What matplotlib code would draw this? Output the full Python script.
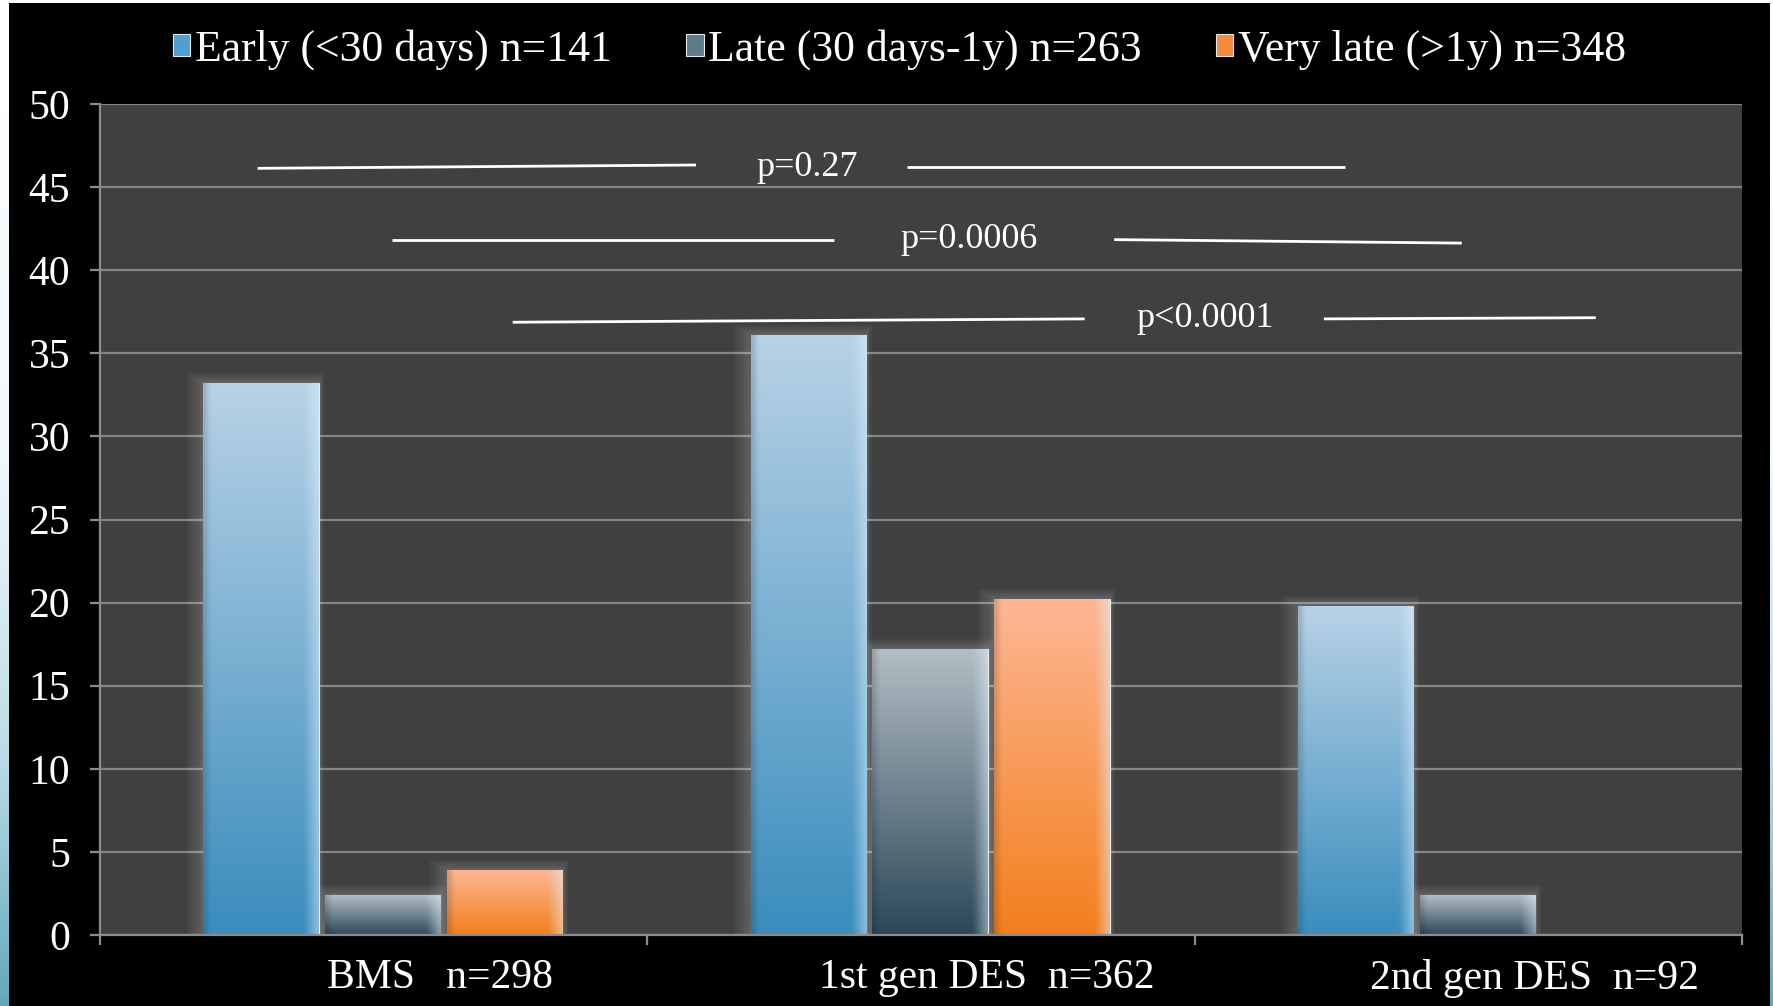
#!/usr/bin/env python3
"""
Stent thrombosis timing by stent type - dark slide style bar chart.
"""

import numpy as np
import matplotlib
matplotlib.use("Agg")
import matplotlib.pyplot as plt
import matplotlib.transforms as mtransforms
from matplotlib.colors import LinearSegmentedColormap, to_rgb
from matplotlib.patches import Patch, Rectangle

plt.rcParams["font.family"] = ["Liberation Serif", "DejaVu Serif"]

# data
categories = ["BMS   n=298", "1st gen DES  n=362", "2nd gen DES  n=92"]
series_labels = ["Early (<30 days) n=141", "Late (30 days-1y) n=263", "Very late (>1y) n=348"]
early = [33.2, 36.1, 19.8]
late = [2.4, 17.2, 2.4]
very_late = [3.9, 20.2, 0.0]

# p-value brackets (text and line ends in data coords)
p_labels = ["p=0.27", "p=0.0006", "p<0.0001"]
p_text_x = [0.792, 1.088, 1.519]
p_text_y = [46.2, 41.84, 37.1]
p_left_x = [(-0.212, 0.589), (0.034, 0.841), (0.254, 1.299)]
p_left_y = [(46.13, 46.33), (41.84, 41.84), (36.87, 37.07)]
p_right_x = [(0.974, 1.775), (1.353, 1.988), (1.736, 2.233)]
p_right_y = [(46.2, 46.2), (41.84, 41.63), (37.07, 37.14)]

# (top colour, bottom colour, legend colour)
styles = [
    ("#b8d2e6", "#3a8dbd", "#4f9fd0"),
    ("#b3bec5", "#2c4858", "#5f7b8a"),
    ("#fdb795", "#f37f1c", "#f58a3c"),
]


def bar_gradient(top, bottom, n=200, m=40):
    t = np.linspace(0, 1, n)[:, None, None]
    img = (1 - t) * np.array(to_rgb(top)) + t * np.array(to_rgb(bottom))
    img = np.repeat(img, m, axis=1)
    # light right edge and slightly darker left edge
    xs = np.linspace(0, 1, m)[None, :, None]
    hl = np.clip((xs - 0.88) / 0.12, 0, 1) * 0.45
    img = img * (1 - hl) + hl * np.array([0.88, 0.95, 1.0])
    sh = np.clip((0.06 - xs) / 0.06, 0, 1) * 0.15
    img = img * (1 - sh)
    return np.clip(img, 0, 1)


def main():
    fig = plt.figure(figsize=(17.74, 10.06), dpi=100)

    # slide background: pale blue gradient behind a black panel
    ax_bg = fig.add_axes([0, 0, 1, 1], zorder=-10)
    slide = LinearSegmentedColormap.from_list(
        "slide", [(0, "#ffffff"), (0.45, "#f2f8fb"), (0.75, "#bcdde6"), (1, "#62a9bd")])
    ax_bg.imshow(np.linspace(0, 1, 256)[:, None], cmap=slide, aspect="auto",
                 extent=[0, 1, 0, 1], origin="upper")
    ax_bg.add_patch(Rectangle((9 / 1774, 0), (1770 - 9) / 1774, 1003 / 1006,
                              facecolor="black", edgecolor="none"))
    ax_bg.set_xlim(0, 1)
    ax_bg.set_ylim(0, 1)
    ax_bg.axis("off")

    ax = fig.add_axes([100 / 1774, 1 - 935 / 1006, 1642 / 1774, 831 / 1006])
    ax.set_facecolor("#404040")

    x = np.arange(len(categories))
    width = 0.211
    step = 0.2225
    shift = 0.0166
    series = [early, late, very_late]

    for j, vals in enumerate(series):
        top, bottom, _ = styles[j]
        pos = x + (j - 1) * step + shift
        vals_arr = np.array(vals)
        # soft glow behind the bars (none for empty bars)
        for k in range(1, 6):
            glow_h = np.where(vals_arr > 0, vals_arr + 0.12 * k, 0)
            ax.bar(pos - 0.002 * k, glow_h, width=width + 0.008 * k,
                   color="white", alpha=0.035, zorder=2, linewidth=0)
        bars = ax.bar(pos, vals, width=width, color=bottom, zorder=3,
                      edgecolor="#e6eef2", linewidth=0.8)
        for b in bars:
            h = b.get_height()
            if h <= 0:
                b.set_visible(False)
                continue
            x0 = b.get_x()
            im = ax.imshow(bar_gradient(top, bottom), extent=[x0, x0 + b.get_width(), 0, h],
                           origin="upper", aspect="auto", zorder=3.5, interpolation="bilinear")
            im.set_clip_path(b)

    ax.set_xlim(-0.5, 2.5)
    ax.set_ylim(0, 50)
    ax.set_yticks(np.arange(0, 51, 5))
    ax.grid(True, axis="y", color="#858585", linewidth=1.6, zorder=1)
    ax.set_axisbelow(True)

    for s in ["top", "right"]:
        ax.spines[s].set_visible(False)
    for s in ["left", "bottom"]:
        ax.spines[s].set_color("#8c8c8c")
        ax.spines[s].set_linewidth(1.6)
        ax.spines[s].set_zorder(4)

    ax.tick_params(axis="y", colors="#8c8c8c", length=7.5, width=1.6, pad=14,
                   labelcolor="white", labelsize=30)
    ax.set_xticks(x)
    ax.set_xticklabels(categories)
    ax.set_xticks([-0.5, 0.5, 1.5, 2.5], minor=True)
    ax.tick_params(axis="x", which="major", length=0, pad=17, labelcolor="white", labelsize=30)
    ax.tick_params(axis="x", which="minor", length=7.5, width=1.6, colors="#8c8c8c")
    offset = mtransforms.ScaledTranslation(0.66, 0, fig.dpi_scale_trans)
    for lab in ax.get_xticklabels():
        lab.set_transform(lab.get_transform() + offset)

    # p-value brackets
    for i, lbl in enumerate(p_labels):
        ax.plot(p_left_x[i], p_left_y[i], color="white", linewidth=2, zorder=5,
                solid_capstyle="butt")
        ax.plot(p_right_x[i], p_right_y[i], color="white", linewidth=2, zorder=5,
                solid_capstyle="butt")
        ax.text(p_text_x[i], p_text_y[i], lbl, color="white", fontsize=26,
                ha="center", va="center", zorder=5)

    handles = [Patch(facecolor=s[2], edgecolor="#dfe8ee", linewidth=0.8) for s in styles]
    fig.legend(handles, series_labels, loc="center", bbox_to_anchor=(0.507, 0.951),
               ncol=3, frameon=False, fontsize=31.5, labelcolor="white",
               handlelength=0.4, handleheight=0.4, handletextpad=0.1,
               columnspacing=1.7)

    fig.savefig("out.png", dpi=100, facecolor=fig.get_facecolor())
    print("Saved out.png")


if __name__ == "__main__":
    main()
